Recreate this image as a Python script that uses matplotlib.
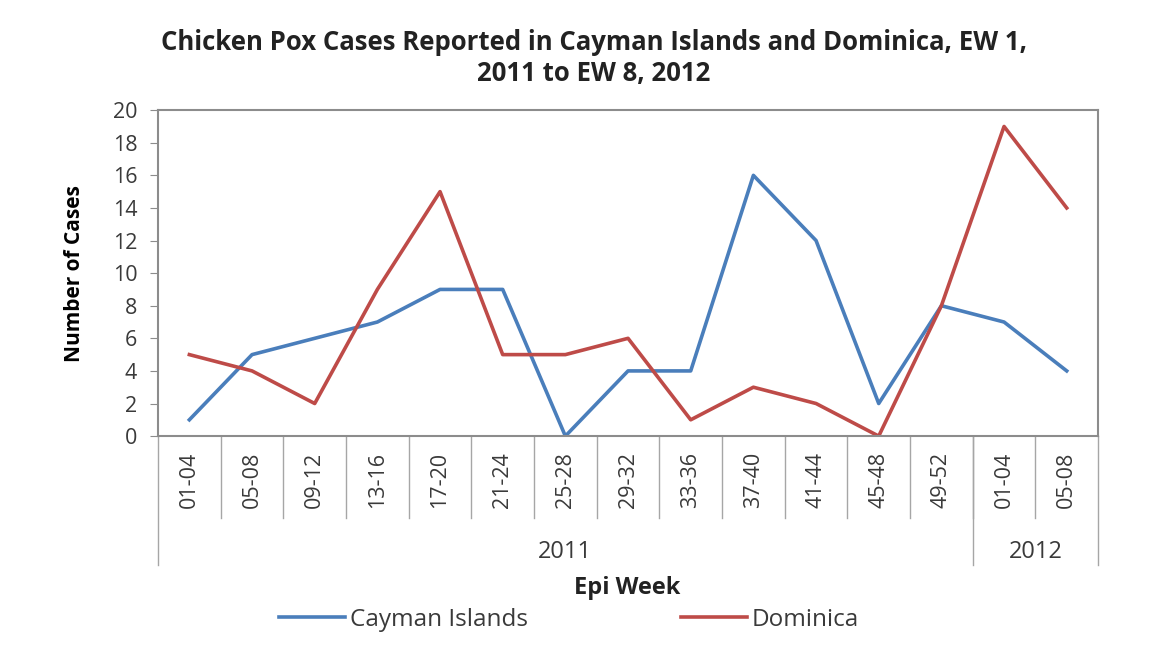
import matplotlib.pyplot as plt
from matplotlib import transforms

plt.rcParams['font.family'] = ['Open Sans', 'DejaVu Sans']

weeks = ['01-04', '05-08', '09-12', '13-16', '17-20', '21-24', '25-28', '29-32',
         '33-36', '37-40', '41-44', '45-48', '49-52', '01-04', '05-08']
years = ['2011', '2012']
year_counts = [13, 2]

cayman = [1, 5, 6, 7, 9, 9, 0, 4, 4, 16, 12, 2, 8, 7, 4]
dominica = [5, 4, 2, 9, 15, 5, 5, 6, 1, 3, 2, 0, 8, 19, 14]

blue = '#4A7EBB'
red = '#BE4B48'
grey = '#8C8C8C'
text_col = '#3A3A3A'

fig = plt.figure(figsize=(11.51, 6.48), dpi=100)
ax = fig.add_axes([0.1373, 0.327, 0.8167, 0.503])

x = [i + 0.5 for i in range(len(weeks))]
ax.plot(x, cayman, color=blue, lw=2.6, label='Cayman Islands')
ax.plot(x, dominica, color=red, lw=2.6, label='Dominica')

ax.set_xlim(0, len(weeks))
ax.set_ylim(0, 20)
ax.set_yticks(range(0, 21, 2))
ax.set_xticks([])
ax.tick_params(axis='y', length=6, pad=9, color=grey, labelsize=15.5, labelcolor=text_col)
for s in ax.spines.values():
    s.set_color(grey)
    s.set_linewidth(1.5)

# category axis drawn below the plot area
trans = transforms.blended_transform_factory(ax.transData, ax.transAxes)
for i in range(1, len(weeks)):
    ax.plot([i, i], [0, -0.25], color='#A6A6A6', lw=1, transform=trans, clip_on=False)
for i, w in enumerate(weeks):
    ax.text(i + 0.5, -0.135, w, rotation=90, ha='center', va='center',
            fontsize=15.5, color=text_col, transform=trans)

edge = 0
bounds = [0]
for n in year_counts:
    edge += n
    bounds.append(edge)
for b in bounds:
    ax.plot([b, b], [0, -0.395], color='#A6A6A6', lw=1, transform=trans, clip_on=False)
for y, a, b in zip(years, bounds[:-1], bounds[1:]):
    ax.text((a + b) / 2, -0.355, y, ha='center', va='center', fontsize=17,
            color=text_col, transform=trans)

ax.set_ylabel('Number of Cases', fontsize=15, fontweight='bold', labelpad=20)
fig.text(627 / 1151, 1 - 588 / 648, 'Epi Week', ha='center', va='center',
         fontsize=17, fontweight='bold', color='#222222')
fig.text(594 / 1151, 1 - 58 / 648,
         'Chicken Pox Cases Reported in Cayman Islands and Dominica, EW 1,\n2011 to EW 8, 2012',
         ha='center', va='center', fontsize=18.5, fontweight='bold', linespacing=1.2,
         color='#222222')

fig.legend(loc='center', bbox_to_anchor=(569 / 1151, 1 - 620 / 648), ncol=2, frameon=False,
           fontsize=17.5, handlelength=2.7, handletextpad=0.2, columnspacing=6.3,
           labelcolor=text_col)

fig.savefig('out.png', dpi=100)
